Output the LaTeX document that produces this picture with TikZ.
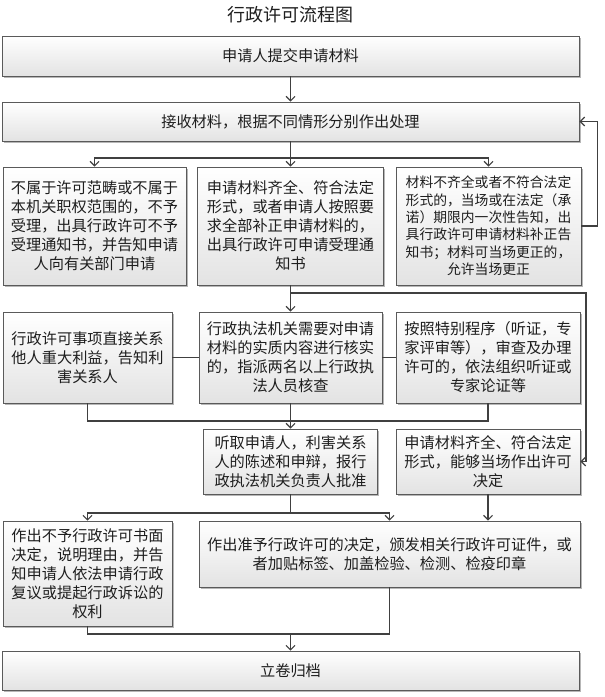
\documentclass[tikz,border=0pt]{standalone}
\usepackage{fontspec}
\setmainfont{Noto Sans CJK SC}
\usetikzlibrary{arrows.meta,shadows,calc}
\definecolor{txt}{HTML}{1E1E1E}
\definecolor{edge}{HTML}{5A5A5A}
\definecolor{wire}{HTML}{404040}
\begin{document}
\begin{tikzpicture}[x=1pt,y=-1pt,
  box/.style={draw=edge, line width=0.9pt, top color=white, bottom color=black!11,
    drop shadow={shadow xshift=1.6pt, shadow yshift=-1.6pt, fill=black!40, opacity=0.7},
    align=center, inner sep=0pt, text=txt,
    font=\fontsize{15.2}{19}\selectfont},
  small/.style={font=\fontsize{13.8}{17.4}\selectfont},
  conn/.style={draw=wire, line width=1.3pt},
  arr/.style={conn, -{Straight Barb[length=4.5pt,width=9pt,line width=1.1pt]}}
]
\useasboundingbox (0,0) rectangle (605,697);
\node[text=txt, font=\fontsize{18}{20}\selectfont] (title) at (290,15) {行政许可流程图};

\node[box, minimum width=577pt, minimum height=40pt] (b1) at (290.5,56) {申请人提交申请材料};
\node[box, minimum width=577pt, minimum height=39pt] (b2) at (290.5,121.5) {接收材料，根据不同情形分别作出处理};

\node[box, minimum width=183pt, minimum height=118pt] (A) at (94.5,226)
  {不属于许可范畴或不属于\\本机关职权范围的，不予\\受理，出具行政许可不予\\受理通知书，并告知申请\\人向有关部门申请};
\node[box, minimum width=186pt, minimum height=118pt] (B) at (290.5,226)
  {申请材料齐全、符合法定\\形式，或者申请人按照要\\求全部补正申请材料的，\\出具行政许可申请受理通\\知书};
\node[box, small, minimum width=185pt, minimum height=118pt] (C) at (488.5,226)
  {材料不齐全或者不符合法定\\形式的，当场或在法定（承\\诺）期限内一次性告知，出\\具行政许可申请材料补正告\\知书；材料可当场更正的，\\允许当场更正};

\node[box, minimum width=169pt, minimum height=91pt] (D) at (87.5,357.5)
  {行政许可事项直接关系\\他人重大利益，告知利\\害关系人};
\node[box, minimum width=183pt, minimum height=91pt] (E) at (290.5,357.5)
  {行政执法机关需要对申请\\材料的实质内容进行核实\\的，指派两名以上行政执\\法人员核查};
\node[box, minimum width=184pt, minimum height=91pt] (F) at (488,357.5)
  {按照特别程序（听证，专\\家评审等），审查及办理\\许可的，依法组织听证或\\专家论证等};

\node[box, minimum width=174pt, minimum height=65pt] (G) at (290.5,461.5)
  {听取申请人，利害关系\\人的陈述和申辩，报行\\政执法机关负责人批准};
\node[box, minimum width=184pt, minimum height=65pt] (H) at (488,461.5)
  {申请材料齐全、符合法定\\形式，能够当场作出许可\\决定};

\node[box, minimum width=169pt, minimum height=105pt] (I) at (87.5,573.5)
  {作出不予行政许可书面\\决定，说明理由，并告\\知申请人依法申请行政\\复议或提起行政诉讼的\\权利};
\node[box, minimum width=381pt, minimum height=66pt] (J) at (389.5,554)
  {作出准予行政许可的决定，颁发相关行政许可证件，或\\者加贴标签、加盖检验、检测、检疫印章};

\node[box, minimum width=577pt, minimum height=39pt] (K) at (290.5,670.5) {立卷归档};

\coordinate (r3) at (0,158);
\coordinate (r4) at (0,293);
\coordinate (rx) at (586,0);
\coordinate (r5) at (0,421);
\coordinate (r6) at (0,513);
\coordinate (r7) at (0,634);

\draw[arr] (b1.south) -- (b2.north);
\draw[conn] (b2.south) -- (b2.south |- r3);
\draw[arr] (b2.south |- r3) -| (A.north);
\draw[arr] (b2.south |- r3) -- (B.north);
\draw[arr] (b2.south |- r3) -| (C.north);
\draw[arr] (C.east) -- ++(16,0) |- (b2.east);

\draw[conn] (B.south) -- (B.south |- r4);
\draw[arr] (B.south |- r4) -- (E.north);
\draw[arr] (B.south |- r4) -| (rx |- H.east) -- (H.east);

\draw[conn] (D) -- (E);
\draw[conn] (E) -- (F);
\draw[conn] (D.south) -- (D.south |- r5) -- (F.south |- r5) -- (F.south);
\draw[arr] (E.south) -- (G.north);

\draw[conn] (G.south) -- (G.south |- r6);
\draw[arr] (G.south |- r6) -| (I.north);
\draw[arr] (G.south |- r6) -| (J.north);
\draw[arr] (H.south) -- (H.south |- J.north);

\draw[conn] (I.south) -- (I.south |- r7) -- (J.south |- r7) -- (J.south);
\draw[arr] (K.north |- r7) -- (K.north);
\end{tikzpicture}
\end{document}
